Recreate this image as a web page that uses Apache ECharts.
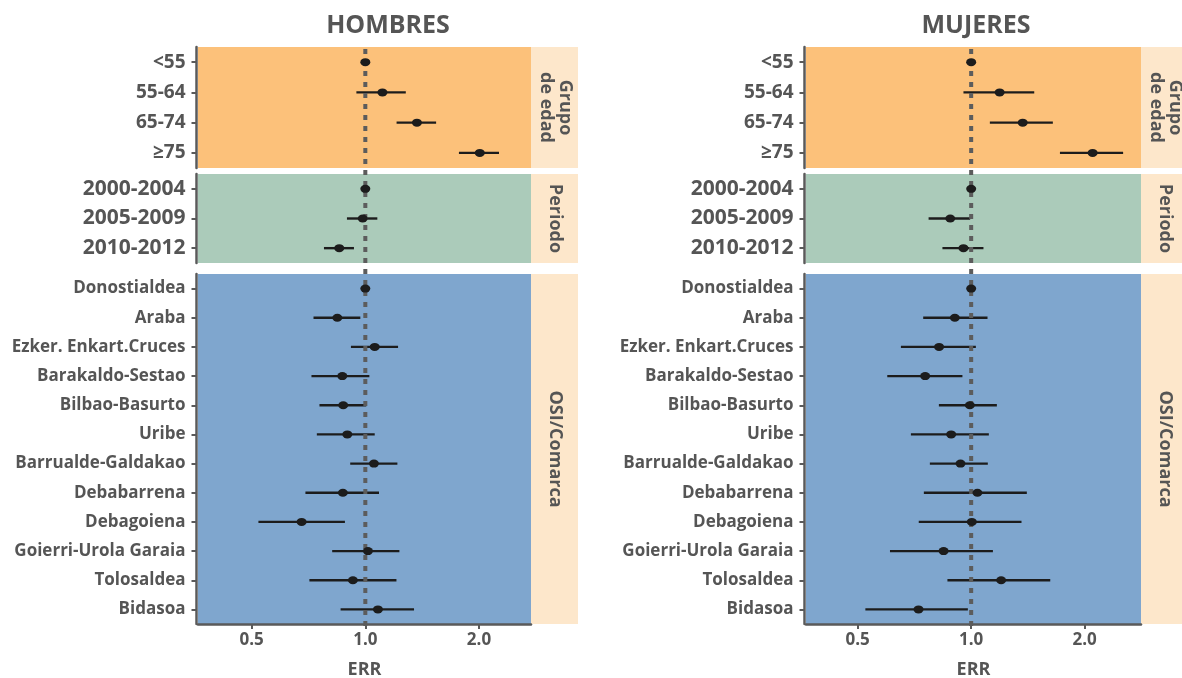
<!DOCTYPE html>
<html>
<head>
<meta charset="utf-8">
<script src="https://cdn.jsdelivr.net/npm/echarts@6/dist/echarts.min.js"></script>
<style>
html,body{margin:0;padding:0;background:#fff;}
#chart{width:1182px;height:678px;}
</style>
</head>
<body>
<div id="chart"></div>
<script>
// ---------- categories ----------
const ageCats = ['<55', '55-64', '65-74', '≥75'];
const periodCats = ['2000-2004', '2005-2009', '2010-2012'];
const osiCats = ['Donostialdea', 'Araba', 'Ezker. Enkart.Cruces', 'Barakaldo-Sestao', 'Bilbao-Basurto', 'Uribe',
  'Barrualde-Galdakao', 'Debabarrena', 'Debagoiena', 'Goierri-Urola Garaia', 'Tolosaldea', 'Bidasoa'];

// ---------- HOMBRES ----------
const menAgeEst = [1, 1.11, 1.37, 2.01];
const menAgeLo = [null, 0.947, 1.21, 1.77];
const menAgeHi = [null, 1.28, 1.54, 2.26];
const menPeriodEst = [1, 0.984, 0.853];
const menPeriodLo = [null, 0.894, 0.777];
const menPeriodHi = [null, 1.076, 0.933];
const menOsiEst = [1, 0.843, 1.059, 0.869, 0.874, 0.896, 1.054, 0.872, 0.678, 1.016, 0.927, 1.080];
const menOsiLo = [null, 0.729, 0.916, 0.720, 0.756, 0.744, 0.912, 0.694, 0.521, 0.817, 0.711, 0.860];
const menOsiHi = [null, 0.970, 1.221, 1.025, 1.006, 1.059, 1.216, 1.087, 0.883, 1.231, 1.209, 1.346];

// ---------- MUJERES ----------
const womenAgeEst = [1, 1.19, 1.37, 2.10];
const womenAgeLo = [null, 0.954, 1.121, 1.72];
const womenAgeHi = [null, 1.47, 1.647, 2.53];
const womenPeriodEst = [1, 0.88, 0.954];
const womenPeriodLo = [null, 0.771, 0.839];
const womenPeriodHi = [null, 0.994, 1.078];
const womenOsiEst = [1, 0.905, 0.822, 0.755, 0.992, 0.885, 0.937, 1.039, 1.004, 0.845, 1.201, 0.725];
const womenOsiLo = [null, 0.746, 0.651, 0.599, 0.821, 0.692, 0.777, 0.749, 0.726, 0.609, 0.865, 0.524];
const womenOsiHi = [null, 1.105, 1.029, 0.948, 1.170, 1.114, 1.107, 1.405, 1.360, 1.142, 1.621, 0.980];

// ---------- axis / text ----------
const xTicks = [0.5, 1, 2];
const refValue = 1;
const panelTitles = ['HOMBRES', 'MUJERES'];
const stripLabels = ['Grupo\nde edad', 'Periodo', 'OSI/Comarca'];
const xAxisName = 'ERR';

// ---------- layout & style ----------
const FONT = "'Open Sans', 'Noto Sans', sans-serif";
const TXT = '#555555';
const AXIS = '#5a5a5a';
const INK = '#1c1c1c';
const panelColors = ['#FCC17A', '#ABCBBA', '#7FA6CE'];
const stripColor = '#FDE7CB';
const panels = [
  { left: 198, width: 333, xmin: 0.3604, xmax: 2.747, titleX: 388 },
  { left: 806, width: 335, xmin: 0.3646, xmax: 2.822, titleX: 976 }
];
const rows = [
  { top: 47, height: 121, labelSize: 19 },
  { top: 174, height: 89, labelSize: 21 },
  { top: 274, height: 350, labelSize: 17 }
];
const stripWidth = 47;

const facetData = [
  [
    { cats: ageCats, est: menAgeEst, lo: menAgeLo, hi: menAgeHi },
    { cats: periodCats, est: menPeriodEst, lo: menPeriodLo, hi: menPeriodHi },
    { cats: osiCats, est: menOsiEst, lo: menOsiLo, hi: menOsiHi }
  ],
  [
    { cats: ageCats, est: womenAgeEst, lo: womenAgeLo, hi: womenAgeHi },
    { cats: periodCats, est: womenPeriodEst, lo: womenPeriodLo, hi: womenPeriodHi },
    { cats: osiCats, est: womenOsiEst, lo: womenOsiLo, hi: womenOsiHi }
  ]
];

const grid = [], xAxis = [], yAxis = [], series = [], graphic = [];

panels.forEach((p, pi) => {
  rows.forEach((r, ri) => {
    const idx = grid.length;
    const isBottom = ri === rows.length - 1;
    const f = facetData[pi][ri];
    grid.push({
      left: p.left, top: r.top, width: p.width, height: r.height,
      show: true, backgroundColor: panelColors[ri], borderWidth: 0,
      containLabel: false, outerBoundsMode: 'none'
    });
    xAxis.push({
      gridIndex: idx, type: 'log', logBase: 2, min: p.xmin, max: p.xmax,
      show: isBottom,
      splitLine: { show: false },
      axisLine: { show: true, lineStyle: { color: AXIS, width: 2.5 } },
      axisTick: { show: true, length: 5, lineStyle: { color: AXIS, width: 2 }, customValues: xTicks },
      axisLabel: {
        customValues: xTicks,
        formatter: v => Number(v).toFixed(1),
        color: TXT, fontFamily: FONT, fontWeight: 'bold', fontSize: 17, margin: 8
      },
      name: isBottom ? xAxisName : '',
      nameLocation: 'middle', nameGap: 37,
      nameTextStyle: { color: TXT, fontFamily: FONT, fontWeight: 'bold', fontSize: 18 }
    });
    yAxis.push({
      gridIndex: idx, type: 'category', data: f.cats, inverse: true, offset: 1.5,
      axisLine: { show: true, lineStyle: { color: AXIS, width: 2.5 } },
      axisTick: { show: true, alignWithLabel: true, length: 5, lineStyle: { color: AXIS, width: 2 } },
      axisLabel: { color: TXT, fontFamily: FONT, fontWeight: 'bold', fontSize: r.labelSize, margin: 11 },
      splitLine: { show: false }
    });
    // error bars
    const bars = [];
    f.cats.forEach((c, i) => { if (f.lo[i] != null) bars.push([f.lo[i], f.hi[i], c]); });
    series.push({
      type: 'custom', xAxisIndex: idx, yAxisIndex: idx, z: 3,
      encode: { x: [0, 1], y: 2 },
      data: bars,
      renderItem: (params, api) => {
        const a = api.coord([api.value(0), api.value(2)]);
        const b = api.coord([api.value(1), api.value(2)]);
        return { type: 'line', shape: { x1: a[0], y1: a[1], x2: b[0], y2: b[1] },
          style: { stroke: INK, lineWidth: 2.4 } };
      },
      silent: true
    });
    // points
    series.push({
      type: 'scatter', xAxisIndex: idx, yAxisIndex: idx, z: 10,
      symbol: 'circle', symbolSize: [10, 8],
      itemStyle: { color: INK, opacity: 1 },
      data: f.cats.map((c, i) => [f.est[i], c]),
      silent: true
    });
    // strip
    graphic.push({
      type: 'rect', shape: { x: p.left + p.width, y: r.top, width: stripWidth, height: r.height },
      style: { fill: stripColor }, silent: true
    });
    graphic.push({
      type: 'text', x: p.left + p.width + stripWidth / 2 + 1, y: r.top + r.height / 2,
      rotation: -Math.PI / 2,
      style: { text: stripLabels[ri], align: 'center', verticalAlign: 'middle', fill: TXT,
        font: "bold 18px " + FONT, lineHeight: 19 },
      silent: true
    });
  });
  // reference dotted line spanning all facets
  const gi = grid.length;
  grid.push({ left: p.left, width: p.width, top: 45, height: 581, show: false,
    containLabel: false, outerBoundsMode: 'none' });
  xAxis.push({ gridIndex: gi, type: 'log', logBase: 2, min: p.xmin, max: p.xmax, show: false });
  yAxis.push({ gridIndex: gi, type: 'value', min: 0, max: 1, show: false });
  series.push({
    type: 'line', xAxisIndex: gi, yAxisIndex: gi, z: 4, symbol: 'none', silent: true,
    data: [[refValue, 0], [refValue, 1]],
    lineStyle: { color: '#5c5c5c', width: 4, type: [5, 6], cap: 'butt' }
  });
  graphic.push({
    type: 'text', x: p.titleX, y: 26,
    style: { text: panelTitles[pi], align: 'center', verticalAlign: 'middle', fill: TXT,
      font: "bold 25px " + FONT },
    silent: true
  });
});

const chart = echarts.init(document.getElementById('chart'), null, { renderer: 'canvas' });
chart.setOption({
  animation: false,
  backgroundColor: '#ffffff',
  grid, xAxis, yAxis, series, graphic
});
</script>
</body>
</html>
